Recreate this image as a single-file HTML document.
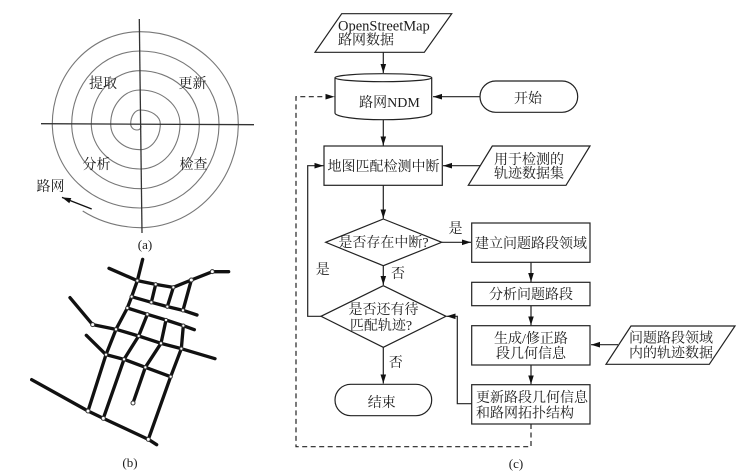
<!DOCTYPE html>
<html><head><meta charset="utf-8">
<style>
html,body{margin:0;padding:0;background:#fff;width:751px;height:474px;overflow:hidden}
svg{display:block;filter:blur(.3px)}
text{font-family:"Liberation Serif","Noto Serif CJK SC",serif;font-size:14px;fill:#1c1c1c;text-anchor:middle}
.l{text-anchor:start}
.s{fill:none;stroke:#222;stroke-width:1.2}
.b{fill:#fff;stroke:#222;stroke-width:1.2}
.r{fill:none;stroke:#111;stroke-width:10;stroke-linecap:round;stroke-linejoin:round}
.n{fill:#fff;stroke:#333;stroke-width:3}
</style></head><body>
<svg width="751" height="474" viewBox="0 0 751 474" xmlns="http://www.w3.org/2000/svg">
<defs>
<marker id="a" markerUnits="userSpaceOnUse" markerWidth="10" markerHeight="7" refX="9" refY="3.500" orient="auto"><path d="M0,.7 L9,3.500 L0,6.300 Z" fill="#111"/></marker>
</defs>

<!-- (a) -->
<g>
<path fill="none" stroke="#777" stroke-width="1.1" d="M141,126 Q141,130 137,130 A6.300,6 0 0 1 130.7,124 A9.3,14 0 0 1 140,110 A20.3,14 0 0 1 160.3,124 A20.3,25.7 0 0 1 140,149.7 A29.3,25.7 0 0 1 110.7,124 A29.3,34 0 0 1 140,90 A40,34 0 0 1 180,124 A40,45 0 0 1 140,169 A48.7,45 0 0 1 91.3,124 A48.7,53.3 0 0 1 140,70.7 A59.3,53.3 0 0 1 199.3,124 A59.3,64.7 0 0 1 140,188.7 A68.3,64.7 0 0 1 71.7,124 A68.3,73 0 0 1 140,51 A79,73 0 0 1 219,124 A79,84 0 0 1 140,208 A87.7,84 0 0 1 52.3,124 A87.7,92.3 0 0 1 140,31.7 A98.3,92.3 0 0 1 238.3,124 A98.3,103.7 0 0 1 140,227.7 Q108,227 82.7,211"/>
<path d="M139.3,19 L142,233" stroke="#333" stroke-width="1.3" fill="none"/>
<path d="M41,123.7 L254,124.7" stroke="#333" stroke-width="1.3" fill="none"/>
<path d="M91.7,209 L62,197.4" stroke="#111" stroke-width="1.3" fill="none" marker-end="url(#a)"/>
<text x="103" y="88">提取</text>
<text x="192.500" y="88">更新</text>
<text x="96.500" y="169">分析</text>
<text x="193.500" y="169">检查</text>
<text x="50.500" y="191">路网</text>
<text x="145" y="249" style="font-size:13px">(a)</text>
</g>

<!-- (b) -->
<g transform="translate(20,250) scale(.33333)">
<path class="r" d="M368,28 L352,92 M267,55 L352,92 L407,103 L460,112 L514,90 L577,65 L626,65 M352,92 L335,140 L322,174 L288,238 L258,314 L204,483 M407,103 L394,157 M460,112 L442,170 M514,90 L489,181 M335,140 L394,157 L442,170 L489,181 L531,195 M322,174 L382,193 L438,210 L490,227 L523,239 M382,193 L356,258 L312,328 L250,505 M438,210 L423,280 L376,352 L339,459 M490,227 L484,296 L452,380 L385,568 M150,143 L218,224 L288,238 L356,258 L423,280 L484,296 L585,326 M199,256 L258,314 L312,328 L376,352 L452,380 M35,389 L204,483 L250,505 L385,568 L410,584"/>
<g class="n">
<circle cx="352" cy="92" r="5"/><circle cx="407" cy="103" r="5"/><circle cx="460" cy="112" r="5"/><circle cx="514" cy="90" r="6"/><circle cx="577" cy="65" r="6"/>
<circle cx="335" cy="140" r="5"/><circle cx="394" cy="157" r="5"/><circle cx="442" cy="170" r="5"/><circle cx="489" cy="181" r="5"/>
<circle cx="322" cy="174" r="5"/><circle cx="382" cy="193" r="5"/><circle cx="438" cy="210" r="5"/><circle cx="490" cy="227" r="5"/>
<circle cx="218" cy="224" r="6"/><circle cx="288" cy="238" r="5"/><circle cx="356" cy="258" r="5"/><circle cx="423" cy="280" r="5"/><circle cx="484" cy="296" r="5"/>
<circle cx="258" cy="314" r="5"/><circle cx="312" cy="328" r="5"/><circle cx="376" cy="352" r="5"/><circle cx="452" cy="380" r="5"/>
<circle cx="339" cy="459" r="6"/><circle cx="204" cy="483" r="6"/><circle cx="250" cy="505" r="6"/><circle cx="385" cy="568" r="6"/>
</g>
</g>
<text x="130" y="467" style="font-size:13px">(b)</text>

<!-- (c) connectors -->
<g class="s">
<path d="M383.300,52.300 V73" marker-end="url(#a)"/>
<path d="M480,96.700 H433" marker-end="url(#a)"/>
<path d="M383.300,120 V145.500" marker-end="url(#a)"/>
<path d="M480,165.700 H443" marker-end="url(#a)"/>
<path d="M383.300,185.300 V218.500" marker-end="url(#a)"/>
<path d="M441.700,242.300 H471" marker-end="url(#a)"/>
<path d="M383.300,265.700 V285" marker-end="url(#a)"/>
<path d="M321,316.300 H307.700 V165.700 H323.500" marker-end="url(#a)"/>
<path d="M383.300,347.300 V383.500" marker-end="url(#a)"/>
<path d="M531,262.300 V282" marker-end="url(#a)"/>
<path d="M531,305.700 V325.300" marker-end="url(#a)"/>
<path d="M531,365 V384.300" marker-end="url(#a)"/>
<path d="M471.700,403.700 H457.300 V316.300 H446.500" marker-end="url(#a)"/>
<path d="M618,344.700 H591" marker-end="url(#a)"/>
<path d="M531,424 V446.700 H296 V96.700 H334.500" stroke-dasharray="5 3.500" marker-end="url(#a)"/>
</g>

<!-- (c) shapes -->
<path class="b" d="M341.700,13.700 H451.700 L424.300,52.300 H315 Z"/>
<path class="b" d="M335,77.700 A48.350,4 0 0 1 431.700,77.700 V113 A48.350,6.700 0 0 1 335,113 Z"/>
<path class="s" d="M335,77.700 A48.350,4 0 0 0 431.700,77.700"/>
<rect class="b" x="480" y="81" width="97.700" height="31.300" rx="15.650"/>
<rect class="b" x="324" y="146" width="118.300" height="39.300"/>
<path class="b" d="M492.300,146 H590 L566,185.300 H468.300 Z"/>
<path class="b" d="M383.300,219 L441.700,242.300 L383.300,265.700 L325.700,242.300 Z"/>
<path class="b" d="M383.300,285.700 L446,316.300 L383.300,347.300 L321,316.300 Z"/>
<rect class="b" x="335" y="384.300" width="96.700" height="31.400" rx="15.700"/>
<rect class="b" x="471.700" y="223" width="118.300" height="39.300"/>
<rect class="b" x="471.700" y="282.300" width="118.300" height="23.400"/>
<rect class="b" x="471.700" y="325.700" width="118.300" height="39.300"/>
<rect class="b" x="471.700" y="384.700" width="118.300" height="39.300"/>
<path class="b" d="M631,326 H735 L709.300,364.300 H606 Z"/>

<!-- (c) labels -->
<text class="l" x="338" y="30.500" style="font-size:14.500px">OpenStreetMap</text>
<text class="l" x="338" y="44.500">路网数据</text>
<text x="389.500" y="107">路网NDM</text>
<text x="528" y="103">开始</text>
<text x="383.500" y="171">地图匹配检测中断</text>
<text x="529" y="164">用于检测的</text>
<text x="529" y="178">轨迹数据集</text>
<text x="383.500" y="247">是否存在中断?</text>
<text x="455.500" y="233">是</text>
<text x="531" y="248">建立问题路段领域</text>
<text x="398" y="278">否</text>
<text x="322.700" y="274">是</text>
<text x="383.500" y="314">是否还有待</text>
<text x="381" y="330">匹配轨迹?</text>
<text x="395.700" y="367">否</text>
<text x="381.700" y="407">结束</text>
<text x="531" y="299">分析问题路段</text>
<text x="531" y="343">生成/修正路</text>
<text x="531" y="358">段几何信息</text>
<text class="l" x="476" y="402">更新路段几何信息</text>
<text class="l" x="476" y="417.500">和路网拓扑结构</text>
<text class="l" x="629" y="342.500">问题路段领域</text>
<text class="l" x="629" y="357.500">内的轨迹数据</text>
<text x="516" y="468" style="font-size:13px">(c)</text>
</svg>
</body></html>
